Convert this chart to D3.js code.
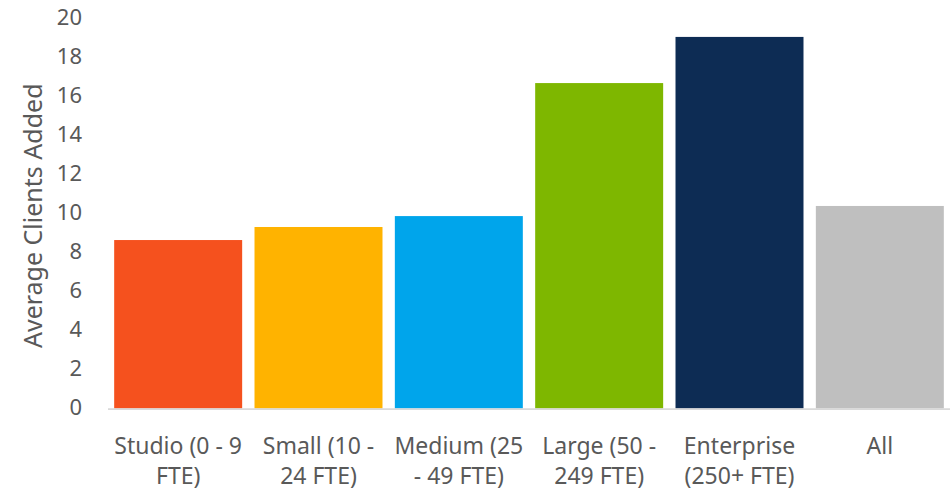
<!DOCTYPE html>
<html>
<head>
<meta charset="utf-8">
<script src="https://cdn.jsdelivr.net/npm/d3@7"></script>
<style>
  html, body { margin: 0; padding: 0; background: #fff; }
  svg { display: block; }
  svg text { font-family: "Noto Sans", "Open Sans", sans-serif; }
</style>
</head>
<body>
<svg id="chart" width="950" height="492"></svg>
<script>
// Average clients added, by agency size
const categories = ["Studio (0 - 9 FTE)", "Small (10 - 24 FTE)", "Medium (25 - 49 FTE)",
                    "Large (50 - 249 FTE)", "Enterprise (250+ FTE)", "All"];
const categoryLines = [["Studio (0 - 9", "FTE)"], ["Small (10 -", "24 FTE)"], ["Medium (25", "- 49 FTE)"],
                       ["Large (50 -", "249 FTE)"], ["Enterprise", "(250+ FTE)"], ["All"]];
const values = [8.65, 9.32, 9.88, 16.71, 19.08, 10.40];
const colors = ["#F5511E", "#FFB300", "#00A5EB", "#7EB700", "#0D2C54", "#BFBFBF"];
const yTicks = [0, 2, 4, 6, 8, 10, 12, 14, 16, 18, 20];
const yTitle = "Average Clients Added";
const FONT = "'Noto Sans', 'Open Sans', sans-serif";

const svg = d3.select("#chart");
const margin = { left: 108, right: 0, top: 19, bottom: 83.5 };
const W = 950, H = 492;

const x = d3.scaleBand()
  .domain(categories)
  .range([margin.left, W - margin.right])
  .paddingInner(0.088)
  .paddingOuter(0.044);

const y = d3.scaleLinear()
  .domain([0, 20])
  .range([H - margin.bottom, margin.top]);

// bars
svg.append("g").selectAll("rect")
  .data(categories)
  .join("rect")
  .attr("x", d => x(d))
  .attr("width", x.bandwidth())
  .attr("y", (d, i) => y(values[i]))
  .attr("height", (d, i) => y(0) - y(values[i]))
  .attr("fill", (d, i) => colors[i]);

// y axis (labels only)
const yAxis = svg.append("g")
  .attr("transform", `translate(${margin.left - 26},0)`)
  .call(d3.axisLeft(y).tickValues(yTicks).tickSize(0).tickPadding(0));
yAxis.attr("font-family", FONT);
yAxis.select(".domain").remove();
yAxis.selectAll("text")
  .attr("fill", "#595959")
  .style("font-size", "22px")
  .attr("dy", "0.26em");

// x baseline
svg.append("line")
  .attr("x1", margin.left).attr("x2", W)
  .attr("y1", y(0) + 0.5).attr("y2", y(0) + 0.5)
  .attr("stroke", "#D9D9D9").attr("stroke-width", 1.75);

// x axis labels
const xAxis = svg.append("g")
  .attr("transform", `translate(0,${y(0)})`)
  .call(d3.axisBottom(x).tickSize(0).tickFormat(""));
xAxis.attr("font-family", FONT);
xAxis.select(".domain").remove();
xAxis.selectAll(".tick").each(function(d, i) {
  const t = d3.select(this).append("text")
    .attr("text-anchor", "middle")
    .attr("fill", "#595959")
    .style("font-size", "23px")
    .attr("y", 45.5);
  categoryLines[i].forEach((ln, j) => {
    t.append("tspan").attr("x", 0).attr("dy", j === 0 ? 0 : 30).text(ln);
  });
});

// y axis title
svg.append("text")
  .attr("transform", `translate(42,${(y(0) + y(20)) / 2 + 2}) rotate(-90)`)
  .attr("text-anchor", "middle")
  .attr("fill", "#595959")
  .attr("font-family", FONT)
  .style("font-size", "25px")
  .text(yTitle);
</script>
</body>
</html>
